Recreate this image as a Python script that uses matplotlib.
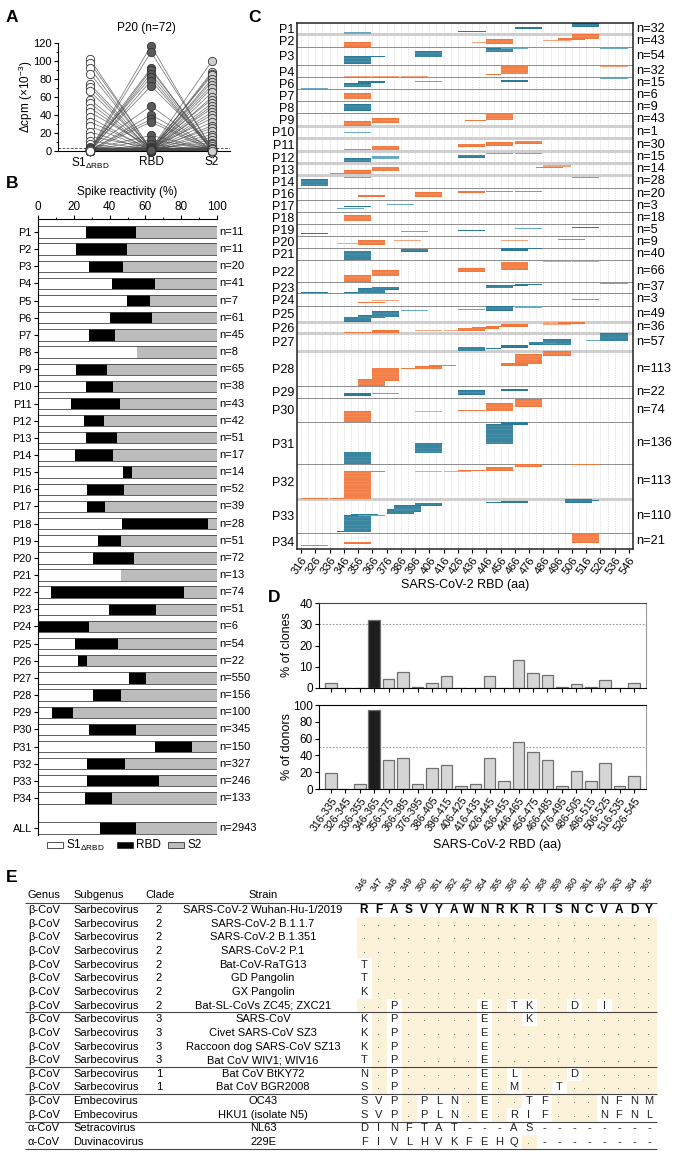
import matplotlib
matplotlib.use('Agg')
import matplotlib.pyplot as plt
import numpy as np
from matplotlib.patches import Rectangle
import matplotlib.transforms as mtransforms

plt.rcParams['font.family'] = ['Liberation Sans', 'DejaVu Sans']
plt.rcParams['mathtext.fontset'] = 'custom'
plt.rcParams['mathtext.rm'] = 'Liberation Sans'
plt.rcParams['mathtext.it'] = 'Liberation Sans:italic'
plt.rcParams['mathtext.bf'] = 'Liberation Sans:bold'
plt.rcParams['axes.linewidth'] = 0.8

# ---------------- DATA ----------------
# Panel A: P20 clones (72), delta cpm x1e-3
a_s1 = [102, 98, 92, 86, 74, 71, 66, 57, 53, 48, 43, 37, 32, 27, 21, 16, 11, 7, 4, 3, 2, 1,
        1, 0, 2, 0, 1, 3, 0, 1, 2, 0, 1, 0, 2, 1, 0, 1,
        0, 1, 2, 0, 1, 0, 3, 1, 0, 2, 1, 0, 1, 2, 0, 1, 0, 2, 1, 0, 1, 0, 2, 1, 0, 1, 0, 2, 1, 0, 1, 0, 1, 0]
a_rbd = [1, 2, 0, 1, 3, 0, 1, 2, 0, 1, 4, 0, 2, 1, 0, 3, 1, 0, 2, 1, 0, 1,
         117, 110, 92, 90, 86, 82, 78, 72, 50, 40, 35, 32, 17, 12, 7, 4,
         2, 0, 1, 3, 0, 1, 2, 0, 1, 0, 4, 1, 0, 2, 1, 0, 3, 1, 0, 2, 0, 1, 0, 1, 2, 0, 1, 0, 1, 2, 0, 1, 0, 1]
a_s2 = [2, 0, 1, 3, 0, 1, 2, 0, 1, 4, 0, 1, 2, 0, 1, 0, 3, 1, 0, 2, 1, 0,
        1, 3, 0, 2, 1, 0, 1, 5, 0, 2, 1, 0, 1, 2, 0, 1,
        100, 88, 86, 84, 80, 77, 73, 70, 65, 60, 57, 53, 50, 47, 43, 40, 36, 32, 28, 25,
        22, 18, 15, 12, 9, 7, 5, 3, 2, 1, 0, 1, 2, 0]
a_cut = 3

# Panel B: spike reactivity (%) : S1dRBD fraction, cumulative end of RBD
b_labels = ['P%d' % i for i in range(1, 35)] + ['ALL']
b_s1 = [26.7, 21.1, 28.4, 41.5, 49.9, 40.4, 28.4, 55.5, 21.1, 26.7, 18.3, 25.6, 26.7,
        20.6, 47.5, 27.3, 27.5, 47.1, 33.6, 30.8, 46.2, 7.5, 39.8, 0.0, 20.6, 22.1,
        51.0, 30.5, 8.0, 28.4, 65.4, 27.5, 27.1, 26.0, 34.4]
b_rbd_end = [54.6, 49.9, 47.5, 65.2, 62.6, 63.9, 42.8, 55.5, 38.5, 41.7, 45.8, 36.8, 44.1,
             42.1, 52.3, 48.2, 37.2, 94.8, 46.4, 53.6, 46.2, 81.3, 66.2, 28.4, 44.7, 27.1,
             60.2, 46.5, 19.8, 54.6, 86.0, 48.8, 67.7, 41.3, 55.0]
b_n = [11, 11, 20, 41, 7, 61, 45, 8, 65, 38, 43, 42, 51, 17, 14, 52, 39, 28, 51, 72, 13,
       74, 51, 6, 54, 22, 550, 156, 100, 345, 150, 327, 246, 133, 2943]

# Panel C: epitope mapping per donor
c_labels = ['P1', 'P2', 'P3', 'P4', 'P6', 'P7', 'P8', 'P9', 'P10', 'P11', 'P12', 'P13', 'P14',
            'P16', 'P17', 'P18', 'P19', 'P20', 'P21', 'P22', 'P23', 'P24', 'P25', 'P26', 'P27',
            'P28', 'P29', 'P30', 'P31', 'P32', 'P33', 'P34']
c_n = [32, 43, 54, 32, 15, 6, 9, 43, 1, 30, 15, 14, 28, 20, 3, 18, 5, 9, 40, 66, 37, 3, 49,
       36, 57, 113, 22, 74, 136, 113, 110, 21]
c_row_height = [11, 13, 18, 12, 12, 12, 12, 13, 12, 13, 12, 12, 13, 12, 12, 12, 12, 12, 12,
                22, 11, 13, 16, 11, 18, 35, 12, 24, 42, 35, 34, 16]
c_thick_sep_after = ['P1', 'P9', 'P10', 'P11', 'P12', 'P13', 'P25', 'P26', 'P27', 'P32']
# segments: (start aa, end aa, offset from row top, thickness, light)
seg_P1 = [(346, 365, 9.2, 1.3, 1), (426, 446, 7.8, 1.3, 0), (466, 485, 3.7, 2.6, 0), (506, 525, 0, 3.7, 0)]
seg_P2 = [(346, 365, 8, 5, 0), (436, 455, 8.2, 1.2, 1), (446, 465, 5, 5, 0), (486, 505, 5.5, 1.2, 1),
          (496, 515, 3.7, 2.3, 0), (506, 525, 0, 5, 0)]
seg_P3 = [(346, 375, 8.5, 1.2, 0), (346, 365, 9, 8, 0), (396, 415, 4, 5.5, 0), (446, 465, 1, 4.3, 0),
          (456, 475, 1.3, 1.2, 1), (526, 545, 1.3, 1.2, 1)]
seg_P4 = [(346, 365, 10.5, 1.2, 1), (366, 385, 10.5, 1.2, 1), (386, 405, 10.5, 1.2, 1),
          (446, 456, 8.5, 1.2, 0), (456, 475, 0.3, 9.2, 0), (526, 545, 1.2, 1.2, 1)]
seg_P6 = [(316, 335, 10.5, 1.2, 1), (346, 365, 6, 3.7, 0), (356, 375, 4, 2.3, 0), (396, 415, 4.2, 1.2, 1),
          (456, 475, 3, 2, 0), (526, 545, 1.2, 1.2, 1)]
seg_P7 = [(346, 365, 4, 6, 0)]
seg_P8 = [(346, 365, 3, 6.7, 0)]
seg_P9 = [(346, 365, 8, 4.7, 0), (366, 385, 5.3, 4.4, 0), (431, 446, 6.5, 1.2, 0), (446, 465, 0, 7.3, 0)]
seg_P10 = [(346, 365, 6.2, 1.2, 1)]
seg_P11 = [(346, 365, 11, 1.2, 0), (366, 385, 7.7, 4.3, 0), (426, 445, 5.7, 3, 0), (446, 465, 4.3, 3.4, 0),
           (466, 485, 2.7, 3.3, 0)]
seg_P12 = [(346, 365, 7, 4, 0), (366, 385, 5, 2.7, 1), (426, 445, 3.7, 3, 0), (446, 465, 2.3, 1.2, 1),
           (466, 485, 2.3, 1.2, 1)]
seg_P13 = [(336, 355, 9.5, 1.2, 0), (346, 365, 7, 3.7, 0), (366, 385, 3.7, 4, 0), (481, 500, 3.5, 1.2, 0),
           (486, 505, 2, 1.7, 1)]
seg_P14 = [(316, 335, 4, 7, 0), (346, 365, 2.2, 1.2, 1), (506, 525, 2.2, 1.2, 1)]
seg_P16 = [(356, 375, 7, 2.3, 0), (396, 415, 4, 4.7, 0), (426, 445, 3, 2.3, 0), (446, 465, 3, 1.2, 0),
           (466, 485, 3, 1.2, 0)]
seg_P17 = [(341, 360, 7.5, 1.2, 1), (346, 365, 5.8, 1.2, 0), (376, 395, 4.2, 1.2, 1)]
seg_P18 = [(346, 365, 3, 5.7, 0)]
seg_P19 = [(316, 335, 8.7, 1.2, 0), (386, 405, 7.2, 1.2, 1), (426, 445, 5.5, 1.2, 0), (466, 485, 4.2, 1.2, 1),
           (506, 525, 2.8, 1.2, 0)]
seg_P20 = [(341, 360, 7.2, 1.2, 1), (356, 375, 4, 4.7, 0), (381, 400, 3.8, 1.2, 1), (456, 475, 4.2, 1.2, 1),
           (496, 515, 2.5, 1.2, 0)]
seg_P21 = [(346, 365, 2.7, 9.3, 0), (386, 405, 0.7, 3, 0), (456, 475, 0.3, 2.4, 0), (466, 485, 0, 1.2, 0)]
seg_P22 = [(346, 365, 15, 6.7, 0), (366, 385, 10, 5.7, 0), (426, 445, 8.3, 3.4, 0), (456, 475, 1.7, 8.3, 0),
           (486, 505, 1.2, 1.2, 1), (506, 525, 1.2, 1.2, 1)]
seg_P23 = [(316, 335, 10, 1, 0), (346, 365, 10, 1, 0), (356, 375, 6.3, 4.5, 0), (366, 385, 4.7, 3.3, 0),
           (446, 465, 3, 3.3, 0), (456, 475, 2.5, 1.2, 0), (466, 485, 2.2, 1.2, 0), (526, 545, 0.5, 1.5, 1)]
seg_P24 = [(356, 375, 8.7, 1.2, 0), (366, 385, 7.2, 1.2, 1), (506, 525, 5.7, 1.2, 0)]
seg_P25 = [(346, 365, 10.7, 5, 0), (356, 375, 9, 3.3, 0), (366, 385, 5, 5.7, 0), (386, 405, 3.5, 1.2, 1),
           (426, 445, 2.8, 1.2, 1), (446, 465, 0, 4.7, 0), (466, 485, 0.3, 1.2, 1)]
seg_P26 = [(346, 365, 10, 1, 0), (366, 385, 8, 2.7, 0), (396, 415, 8.2, 1.2, 1), (416, 435, 8.2, 1.2, 1),
           (426, 445, 5.7, 3.3, 0), (436, 455, 4.7, 2.6, 0), (446, 465, 4.2, 1.2, 0), (456, 475, 2, 2.7, 0),
           (486, 505, 0.3, 2.7, 1), (496, 515, 0, 2.3, 0)]
seg_P27 = [(426, 445, 13.7, 4.3, 0), (446, 456, 14.5, 1.2, 0), (456, 475, 12, 2.7, 0), (476, 495, 8.7, 3.3, 0),
           (486, 505, 6.3, 5.7, 0), (516, 535, 6.5, 1.2, 1), (526, 545, 0.3, 7.4, 0)]
seg_P28 = [(356, 375, 28.3, 6.7, 0), (366, 385, 16.7, 13.3, 0), (386, 405, 17, 1.2, 0), (396, 415, 15, 3, 0),
           (406, 425, 14, 1.2, 0), (456, 475, 12.3, 2.7, 0), (466, 485, 3, 10, 0), (486, 505, 0, 5, 0)]
seg_P29 = [(346, 365, 7.3, 2.7, 0), (366, 385, 7.2, 1.2, 1), (426, 445, 4, 5, 0), (456, 475, 2.7, 2.6, 0)]
seg_P30 = [(346, 365, 13, 10.7, 0), (396, 415, 13.2, 1.2, 1), (426, 445, 11.7, 1.2, 0), (446, 465, 5.3, 7.4, 0),
           (466, 485, 1, 8.3, 0)]
seg_P31 = [(346, 365, 29.7, 12.3, 0), (396, 415, 20.7, 10.6, 0), (446, 465, 2, 20, 0), (456, 475, 0.3, 2.7, 0)]
seg_P32 = [(316, 335, 33.7, 1.2, 0), (336, 355, 33.7, 1.2, 0), (346, 365, 7, 28, 0), (356, 375, 7.2, 1.2, 0),
           (396, 415, 7.2, 1.2, 1), (416, 435, 7.2, 1.2, 1), (426, 445, 5.5, 1.2, 0), (446, 465, 3.3, 3.4, 0),
           (466, 485, 0, 3.3, 0), (506, 525, 0, 1.2, 0)]
seg_P33 = [(341, 360, 32.2, 1.2, 0), (346, 365, 16, 17.3, 0), (351, 370, 14.5, 2.5, 0), (356, 375, 15.8, 1.2, 1),
           (376, 395, 10.3, 5, 0), (381, 400, 6.3, 6.4, 0), (396, 415, 3.7, 3, 0), (446, 465, 3.2, 1.2, 0),
           (456, 475, 1.7, 2.6, 0), (501, 520, 0.3, 3.4, 0), (516, 525, 0.5, 1.2, 0)]
seg_P34 = [(316, 335, 11.5, 1.2, 0), (346, 365, 8.7, 2.6, 0), (506, 525, 0.3, 9.4, 0)]
c_segments = [seg_P1, seg_P2, seg_P3, seg_P4, seg_P6, seg_P7, seg_P8, seg_P9, seg_P10, seg_P11, seg_P12,
              seg_P13, seg_P14, seg_P16, seg_P17, seg_P18, seg_P19, seg_P20, seg_P21, seg_P22, seg_P23,
              seg_P24, seg_P25, seg_P26, seg_P27, seg_P28, seg_P29, seg_P30, seg_P31, seg_P32, seg_P33,
              seg_P34]
c_ticks = list(range(316, 547, 10))

# Panel D
d_bins = ['316-335', '326-345', '336-355', '346-365', '356-375', '366-385', '376-395', '386-405',
          '396-415', '406-425', '416-435', '426-445', '436-455', '446-465', '456-475', '466-485',
          '476-495', '486-505', '496-515', '506-525', '516-535', '526-545']
d_clones = [2.3, 0, 0.1, 32.0, 4.3, 7.7, 0.5, 2.3, 5.6, 0, 0, 5.5, 0.1, 13.0, 7.0, 6.3, 0.4,
            1.8, 0.5, 3.8, 0.1, 2.2]
d_donors = [19.0, 0, 5.9, 93.8, 34.4, 37.5, 5.9, 25.0, 28.1, 3.1, 5.9, 37.5, 9.4, 56.3, 43.8,
            34.4, 3.1, 21.9, 9.4, 31.3, 3.1, 15.6]

# Panel E
e_genus = ['β-CoV'] * 16 + ['α-CoV'] * 2
e_subgenus = ['Sarbecovirus'] * 14 + ['Embecovirus', 'Embecovirus', 'Setracovirus', 'Duvinacovirus']
e_clade = ['2'] * 8 + ['3'] * 4 + ['1'] * 2 + [''] * 4
e_strain = ['SARS-CoV-2 Wuhan-Hu-1/2019', 'SARS-CoV-2 B.1.1.7', 'SARS-CoV-2 B.1.351', 'SARS-CoV-2 P.1',
            'Bat-CoV-RaTG13', 'GD Pangolin', 'GX Pangolin', 'Bat-SL-CoVs ZC45; ZXC21', 'SARS-CoV',
            'Civet SARS-CoV SZ3', 'Raccoon dog SARS-CoV SZ13', 'Bat CoV WIV1; WIV16', 'Bat CoV BtKY72',
            'Bat CoV BGR2008', 'OC43', 'HKU1 (isolate N5)', 'NL63', '229E']
e_positions = list(range(346, 366))
e_reference = 'RFASVYAWNRKRISNCVADY'
e_alignment = ['....................', '....................', '....................',
               'T...................', 'T...................', 'K...................',
               '..P.....E.TK..D.I...', 'K.P.....E..K........', 'K.P.....E...........',
               'K.P.....E...........', 'T.P.....E...........', 'N.P.....E.L...D.....',
               'S.P.....E.M..T......', 'SVP.PLN.E..TF...NFNM', 'SVP.PLN.E.RIF...NFNL',
               'DINFTAT---AS--------', 'FIVLHVKFEHQ.--------']
e_group_ends = [7, 11, 13, 15, 17]

# ---------------- FIGURE ----------------
W, H = 675, 1154
fig = plt.figure(figsize=(W / 100, H / 100), dpi=100)


def axes_px(left, top, right, bottom):
    return fig.add_axes([left / W, 1 - bottom / H, (right - left) / W, (bottom - top) / H])


def ftext(x, y, s, **kw):
    fig.text(x / W, 1 - y / H, s, **kw)


for lab, (x, y) in zip('ABCDE', [(6, 18), (6, 183), (248, 18), (268, 598), (6, 878)]):
    ftext(x, y, lab, fontsize=12.5, fontweight='bold', va='center', ha='left')

# ---- Panel A ----
axA = axes_px(58, 43, 230, 150.7)
for i in range(len(a_s1)):
    axA.plot([0, 1, 2], [a_s1[i], a_rbd[i], a_s2[i]], color='#4a4a4a', lw=0.55, alpha=0.75, zorder=1)
axA.scatter(np.zeros(len(a_s1)), a_s1, s=36, facecolor='white', edgecolor='#333333', lw=0.6, zorder=3, clip_on=False)
axA.scatter(np.ones(len(a_rbd)), a_rbd, s=36, facecolor='#5a5a5a', edgecolor='#333333', lw=0.6, zorder=3, clip_on=False)
axA.scatter(np.full(len(a_s2), 2), a_s2, s=36, facecolor='#cfcfcf', edgecolor='#333333', lw=0.6, zorder=3, clip_on=False)
axA.axhline(a_cut, color='#333333', lw=0.6, ls=(0, (3, 2)), zorder=0)
axA.set_xlim(-0.525, 2.295)
axA.set_ylim(0, 120)
axA.spines['top'].set_visible(False)
axA.spines['right'].set_visible(False)
axA.set_yticks(range(0, 121, 20))
axA.set_yticks(range(0, 121, 10), minor=True)
axA.tick_params(axis='y', labelsize=8, length=3, width=0.8, pad=1.5)
axA.tick_params(axis='y', which='minor', length=1.8, width=0.6)
axA.set_xticks([0, 1, 2], [r'S1$_{\mathregular{\Delta RBD}}$', 'RBD', 'S2'])
axA.tick_params(axis='x', length=0, labelsize=8.5, pad=4)
ftext(146, 28, 'P20 (n=72)', fontsize=8.5, ha='center', va='center')
ftext(26, 97, r'Δcpm (×10$^{-3}$)', fontsize=8.5, ha='center', va='center', rotation=90)

# ---- Panel B ----
axB = axes_px(38, 219, 217, 835)
b_y = list(range(34)) + [34.75]
b_s1a = np.array(b_s1)
b_re = np.array(b_rbd_end)
bh = 0.66
axB.barh(b_y, b_s1a, height=bh, color='white', edgecolor='none')
axB.barh(b_y, b_re - b_s1a, left=b_s1a, height=bh, color='black', edgecolor='none')
axB.barh(b_y, 100 - b_re, left=b_re, height=bh, color='#bcbcbc', edgecolor='none')
axB.barh(b_y, [100] * len(b_y), height=bh, facecolor='none', edgecolor='#444444', lw=0.6)
for yy, nn in zip(b_y, b_n):
    axB.text(101.5, yy, 'n=%d' % nn, fontsize=8, va='center', ha='left', clip_on=False)
axB.set_xlim(0, 100)
axB.set_ylim(35.16, -0.758)
axB.xaxis.tick_top()
axB.set_xticks(range(0, 101, 20))
axB.set_xticks(range(0, 101, 10), minor=True)
axB.tick_params(axis='x', labelsize=8.5, length=3, pad=1.5, width=0.8)
axB.tick_params(axis='x', which='minor', length=1.8, width=0.6)
axB.set_yticks(b_y, b_labels)
axB.tick_params(axis='y', labelsize=7.8, length=3, pad=1.5, width=0.8)
axB.spines['right'].set_visible(False)
axB.spines['bottom'].set_visible(False)
ftext(127, 192, 'Spike reactivity (%)', fontsize=8.5, ha='center', va='center')
# legend
for (x0, fc, lab) in [(47, 'white', r'S1$_{\mathregular{\Delta RBD}}$'), (117, 'black', 'RBD'), (168, '#bcbcbc', 'S2')]:
    fig.patches.append(Rectangle((x0 / W, 1 - 848 / H), 16 / W, 6 / H, facecolor=fc, edgecolor='#333333',
                                 lw=0.6, transform=fig.transFigure))
    ftext(x0 + 19, 845, lab, fontsize=8.5, ha='left', va='center')

# ---- Panel C ----
axC = axes_px(297, 23, 633, 549)
blue, blue_l = '#2a7b99', '#68a9c3'
orange, orange_l = '#f3763a', '#f6a47d'
tops = np.concatenate([[0], np.cumsum(c_row_height)])
total = tops[-1]
for g in np.arange(316, 547, 5):
    axC.axvline(g, color='#c8c8c8', lw=0.5, ls=(0, (1, 1.5)), zorder=0)
for i, (lab, segs) in enumerate(zip(c_labels, c_segments)):
    dark, light = (blue, blue_l) if i % 2 == 0 else (orange, orange_l)
    top = tops[i]
    for (s, e, off, th, lt) in segs:
        col = light if lt else dark
        axC.barh(top + off + th / 2, e - s, left=s, height=th, color=col, edgecolor='none', zorder=2)
        if th >= 3:
            for k in np.arange(top + off + 1.6, top + off + th - 0.5, 1.6):
                axC.hlines(k, s, e, color='white', lw=0.25, alpha=0.45, zorder=3)
    if i < len(c_labels) - 1:
        thick = lab in c_thick_sep_after
        axC.axhline(tops[i + 1], color='#cfcfcf' if thick else '#8c8c8c',
                    lw=2.2 if thick else 0.7, zorder=1)
centers = (tops[:-1] + tops[1:]) / 2
axC.set_yticks(centers, c_labels)
axC.tick_params(axis='y', length=0, labelsize=9, pad=2)
trC = mtransforms.blended_transform_factory(axC.transAxes, axC.transData)
for c, nn in zip(centers, c_n):
    axC.text(1.008, c, 'n=%d' % nn, transform=trC, fontsize=9.2, va='center', ha='left')
axC.set_xlim(313.2, 548.8)
axC.set_ylim(total, 0)
axC.set_xticks(c_ticks, [str(t) for t in c_ticks], rotation=55, ha='right', rotation_mode='anchor')
axC.tick_params(axis='x', labelsize=8, length=3, pad=1.5, width=0.8)
for sp in axC.spines.values():
    sp.set_linewidth(1.1)
    sp.set_color('#222222')
ftext(465, 585, 'SARS-CoV-2 RBD (aa)', fontsize=9, ha='center', va='center')

# ---- Panel D ----
d_x = np.arange(len(d_bins))
d_cols = ['#1e1e1e' if b == '346-365' else '#d6d6d6' for b in d_bins]
axD1 = axes_px(319, 603, 646, 688)
axD1.bar(d_x, d_clones, width=0.8, color=d_cols, edgecolor='#707070', lw=0.9, zorder=2)
axD1.axhline(30, color='#9a9a9a', lw=0.8, ls=(0, (1.5, 1.5)), zorder=1)
axD1.set_ylim(0, 40)
axD1.set_xlim(-0.83, 21.83)
axD1.set_yticks(range(0, 41, 10))
axD1.set_xticks(d_x, [''] * len(d_x))
axD1.tick_params(axis='both', labelsize=8.5, length=3, pad=1.5, width=0.8)
axD1.spines['right'].set_color('#999999')
axD1.spines['top'].set_color('#444444')
axD2 = axes_px(319, 705, 646, 789)
axD2.bar(d_x, d_donors, width=0.8, color=d_cols, edgecolor='#707070', lw=0.9, zorder=2)
axD2.axhline(50, color='#9a9a9a', lw=0.8, ls=(0, (1.5, 1.5)), zorder=1)
axD2.set_ylim(0, 100)
axD2.set_xlim(-0.83, 21.83)
axD2.set_yticks(range(0, 101, 20))
axD2.set_xticks(d_x, d_bins, rotation=55, ha='right', rotation_mode='anchor')
axD2.tick_params(axis='both', labelsize=8.5, length=3, pad=1.5, width=0.8)
axD2.tick_params(axis='x', labelsize=7.6)
axD2.spines['right'].set_color('#999999')
ftext(287, 645, '% of clones', fontsize=9, ha='center', va='center', rotation=90)
ftext(287, 747, '% of donors', fontsize=9, ha='center', va='center', rotation=90)
ftext(497, 845, 'SARS-CoV-2 RBD (aa)', fontsize=9, ha='center', va='center')

# ---- Panel E ----
axE = fig.add_axes([0, 0, 1, 1])
axE.set_xlim(0, W)
axE.set_ylim(H, 0)
axE.axis('off')
y0, dy = 910, 13.65
col_x0, col_dx = 364, 15
hdr_y = 895
fs = 8
axE.text(28, hdr_y, 'Genus', fontsize=fs, va='center', ha='left')
axE.text(73, hdr_y, 'Subgenus', fontsize=fs, va='center', ha='left')
axE.text(160, hdr_y, 'Clade', fontsize=fs, va='center', ha='center')
axE.text(263, hdr_y, 'Strain', fontsize=fs, va='center', ha='center')
for j, p in enumerate(e_positions):
    axE.text(col_x0 + j * col_dx - 3, 893, str(p), fontsize=6.5, rotation=55, ha='left', va='bottom',
             rotation_mode='anchor')
axE.hlines(903, 25, 657, color='#444444', lw=0.8)
for r in range(len(e_strain)):
    yy = y0 + r * dy
    axE.text(28, yy, e_genus[r], fontsize=fs, va='center', ha='left')
    axE.text(73, yy, e_subgenus[r], fontsize=fs, va='center', ha='left')
    axE.text(159, yy, e_clade[r], fontsize=fs, va='center', ha='center')
    axE.text(263, yy, e_strain[r], fontsize=fs, va='center', ha='center')
    if r == 0:
        for j, ch in enumerate(e_reference):
            axE.text(col_x0 + j * col_dx, yy, ch, fontsize=fs + 0.5, fontweight='bold', va='center', ha='center')
    else:
        row = e_alignment[r - 1]
        for j, ch in enumerate(row):
            cx = col_x0 + j * col_dx
            if ch == '.':
                axE.add_patch(Rectangle((cx - col_dx / 2, yy - dy / 2), col_dx, dy, facecolor='#fcf2da',
                                        edgecolor='none', zorder=0))
                axE.text(cx, yy - 1, '.', fontsize=fs, va='center', ha='center', color='#555555')
            else:
                axE.text(cx, yy, ch, fontsize=fs, va='center', ha='center', color='#222222')
for g in e_group_ends:
    axE.hlines(y0 + (g + 0.5) * dy, 25, 657, color='#444444', lw=0.8)

fig.savefig('out.png', dpi=100)
